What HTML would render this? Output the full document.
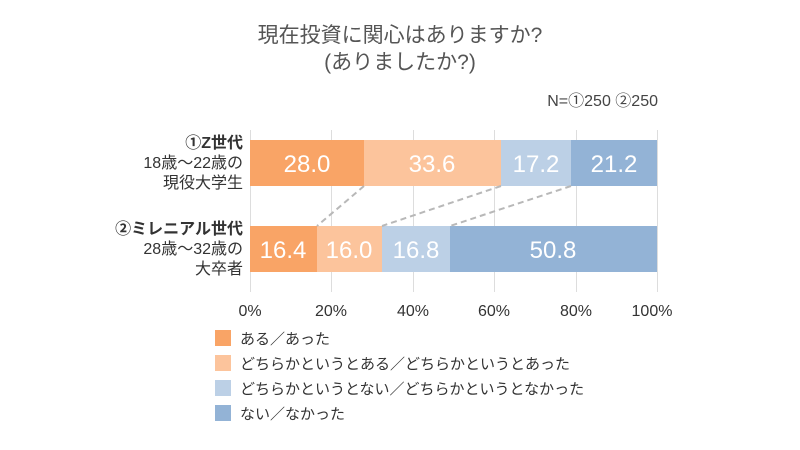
<!DOCTYPE html>
<html><head><meta charset="utf-8"><style>
body{margin:0;width:800px;height:450px;background:#fff;font-family:"Liberation Sans","Noto Sans CJK JP",sans-serif;color:#333;position:relative;overflow:hidden}
</style></head><body>
<svg width="800" height="450" style="position:absolute;left:0;top:0" font-family="Liberation Sans, Noto Sans CJK JP, sans-serif">
<g stroke="#dddddd" stroke-width="1">
<line x1="250.5" y1="130" x2="250.5" y2="292"/><line x1="331.5" y1="130" x2="331.5" y2="292"/><line x1="413.5" y1="130" x2="413.5" y2="292"/><line x1="494.5" y1="130" x2="494.5" y2="292"/><line x1="576.5" y1="130" x2="576.5" y2="292"/><line x1="657.5" y1="130" x2="657.5" y2="292"/>
</g>
<g>
<rect x="250" y="140" width="114" height="46" fill="#F9A466"/>
<rect x="364" y="140" width="137" height="46" fill="#FCC49C"/>
<rect x="501" y="140" width="70" height="46" fill="#BCD0E6"/>
<rect x="571" y="140" width="86" height="46" fill="#93B3D6"/>
<rect x="250" y="226" width="67" height="46" fill="#F9A466"/>
<rect x="317" y="226" width="65" height="46" fill="#FCC49C"/>
<rect x="382" y="226" width="68" height="46" fill="#BCD0E6"/>
<rect x="450" y="226" width="207" height="46" fill="#93B3D6"/>
</g>
<g stroke="#b8b8b8" stroke-width="2" stroke-dasharray="6,4">
<line x1="364" y1="186" x2="317" y2="226"/><line x1="501" y1="186" x2="382" y2="226"/><line x1="571" y1="186" x2="450" y2="226"/>
</g>
<g fill="#fff" font-size="24" text-anchor="middle">
<text x="307" y="172">28.0</text><text x="432" y="172">33.6</text><text x="536" y="172">17.2</text><text x="614" y="172">21.2</text>
<text x="283" y="258">16.4</text><text x="349" y="258">16.0</text><text x="416" y="258">16.8</text><text x="553" y="258">50.8</text>
</g>
<g fill="#333" font-size="16" text-anchor="middle">
<text x="250" y="316">0%</text><text x="331" y="316">20%</text><text x="413" y="316">40%</text><text x="494" y="316">60%</text><text x="576" y="316">80%</text><text x="652" y="316">100%</text>
</g>
<g font-size="16" fill="#333" text-anchor="end">
<text x="243" y="148" font-weight="bold">①Z世代</text><text x="243" y="168">18歳～22歳の</text><text x="243" y="188">現役大学生</text>
<text x="243" y="234" font-weight="bold">②ミレニアル世代</text><text x="243" y="254">28歳～32歳の</text><text x="243" y="274">大卒者</text>
</g>
<g font-size="21" fill="#555" text-anchor="middle">
<text x="400" y="42">現在投資に関心はありますか?</text>
<text x="400" y="69">(ありましたか?)</text>
</g>
<text x="658" y="106" font-size="16" fill="#444" text-anchor="end">N=①250 ②250</text>
<rect x="215" y="330" width="16" height="16" fill="#F9A466"/>
<rect x="215" y="355" width="16" height="16" fill="#FCC49C"/>
<rect x="215" y="380" width="16" height="16" fill="#BCD0E6"/>
<rect x="215" y="405" width="16" height="16" fill="#93B3D6"/>
<g font-size="15" fill="#333">
<text x="240" y="344">ある／あった</text>
<text x="240" y="369">どちらかというとある／どちらかというとあった</text>
<text x="240" y="394">どちらかというとない／どちらかというとなかった</text>
<text x="240" y="419">ない／なかった</text>
</g>
</svg>
</body></html>
